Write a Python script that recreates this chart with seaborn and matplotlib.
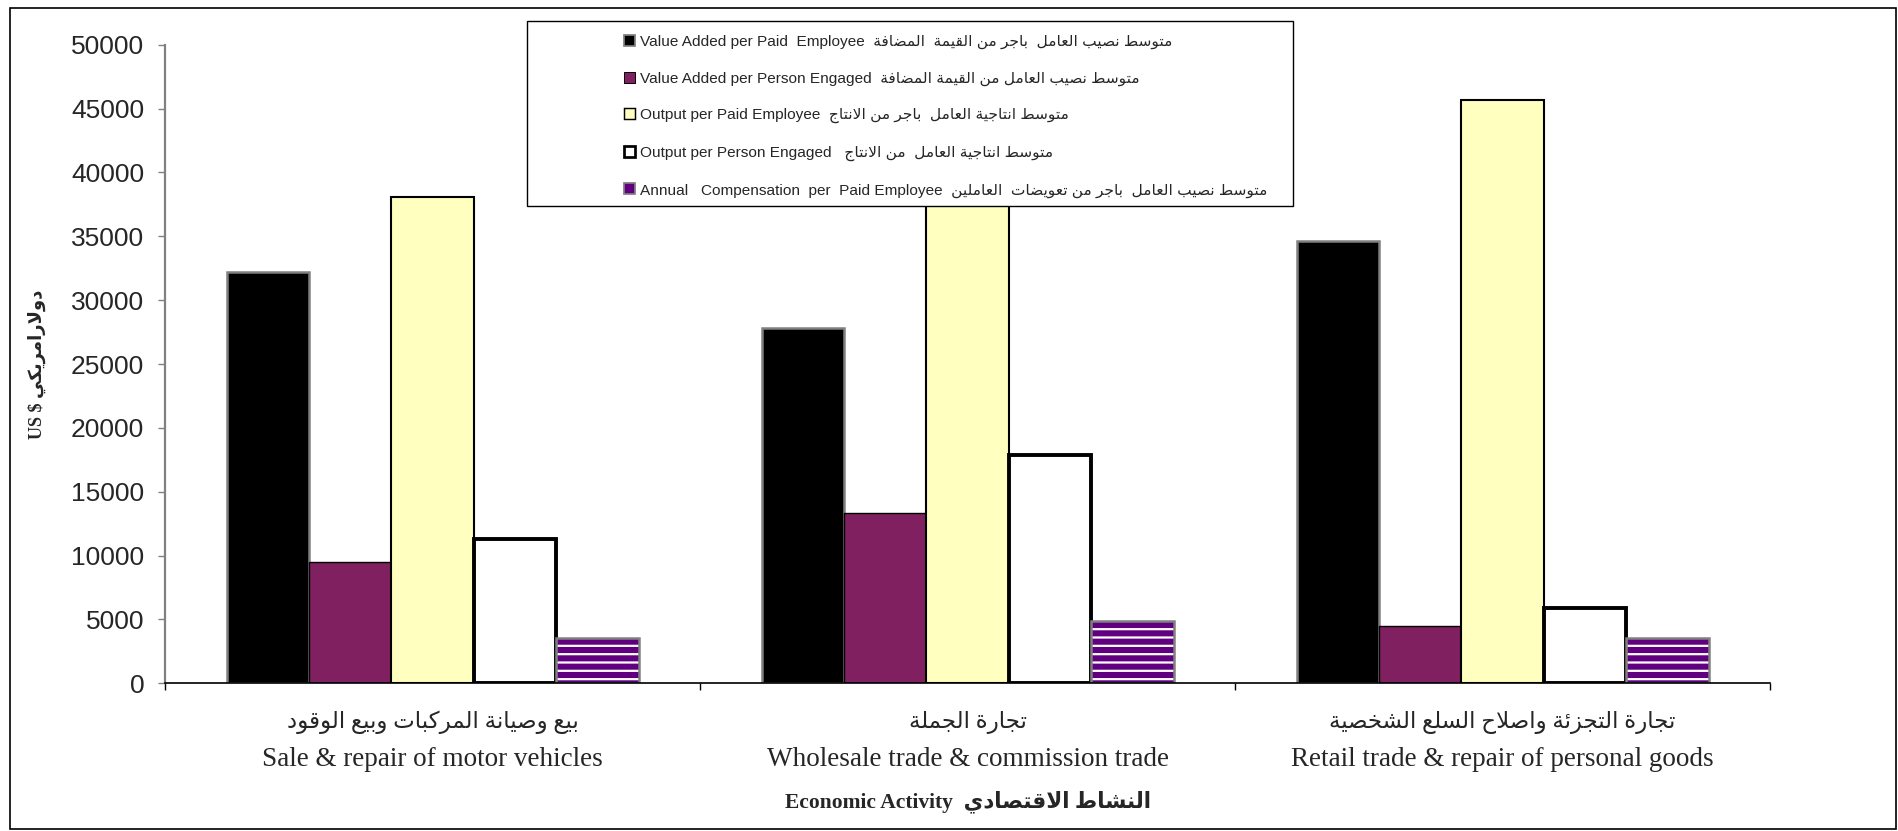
import pandas as pd
import numpy as np
import matplotlib
matplotlib.use('Agg')
import matplotlib.pyplot as plt
import matplotlib.patches as mpatches
import matplotlib.colors as mcolors
import matplotlib.transforms as mtransforms
import seaborn as sns

# Chart data (US $ per worker by economic activity)
categories_en = ['Sale & repair of motor vehicles',
                 'Wholesale trade & commission trade',
                 'Retail trade & repair of personal goods']
categories_ar = ['بيع وصيانة المركبات وبيع الوقود',
                 'تجارة الجملة',
                 'تجارة التجزئة واصلاح السلع الشخصية']
series_en = ['Value Added per Paid  Employee',
             'Value Added per Person Engaged',
             'Output per Paid Employee',
             'Output per Person Engaged ',
             'Annual   Compensation  per  Paid Employee']
series_ar = ['متوسط نصيب العامل  باجر من القيمة  المضافة',
             'متوسط نصيب العامل من القيمة المضافة',
             'متوسط انتاجية العامل  باجر من الانتاج',
             'متوسط انتاجية العامل  من الانتاج',
             'متوسط نصيب العامل  باجر من تعويضات  العاملين']
value_added_paid = [32200, 27800, 34600]
value_added_engaged = [9500, 13300, 4500]
output_paid = [38100, 41000, 45700]
output_engaged = [11300, 17900, 5900]
compensation_paid = [3550, 4850, 3550]
y_ticks = list(range(0, 50001, 5000))

# matplotlib has no arabic shaping, so map letters to presentation forms by hand
AR_FORMS = {
    'ء': (0xFE80, 1), 'آ': (0xFE81, 2), 'أ': (0xFE83, 2), 'ؤ': (0xFE85, 2), 'إ': (0xFE87, 2),
    'ئ': (0xFE89, 4), 'ا': (0xFE8D, 2), 'ب': (0xFE8F, 4), 'ة': (0xFE93, 2), 'ت': (0xFE95, 4),
    'ث': (0xFE99, 4), 'ج': (0xFE9D, 4), 'ح': (0xFEA1, 4), 'خ': (0xFEA5, 4), 'د': (0xFEA9, 2),
    'ذ': (0xFEAB, 2), 'ر': (0xFEAD, 2), 'ز': (0xFEAF, 2), 'س': (0xFEB1, 4), 'ش': (0xFEB5, 4),
    'ص': (0xFEB9, 4), 'ض': (0xFEBD, 4), 'ط': (0xFEC1, 4), 'ظ': (0xFEC5, 4), 'ع': (0xFEC9, 4),
    'غ': (0xFECD, 4), 'ف': (0xFED1, 4), 'ق': (0xFED5, 4), 'ك': (0xFED9, 4), 'ل': (0xFEDD, 4),
    'م': (0xFEE1, 4), 'ن': (0xFEE5, 4), 'ه': (0xFEE9, 4), 'و': (0xFEED, 2), 'ى': (0xFEEF, 2),
    'ي': (0xFEF1, 4),
}
LAM_ALEF = {'آ': 0xFEF5, 'أ': 0xFEF7, 'إ': 0xFEF9, 'ا': 0xFEFB}


def arabic(text):
    units = []
    i = 0
    while i < len(text):
        c = text[i]
        if c == 'ل' and i + 1 < len(text) and text[i + 1] in LAM_ALEF:
            units.append((LAM_ALEF[text[i + 1]], 2, c))
            i += 2
        elif c in AR_FORMS:
            units.append((AR_FORMS[c][0], AR_FORMS[c][1], c))
            i += 1
        else:
            units.append((None, 0, c))
            i += 1
    out = []
    for k, (base, n, c) in enumerate(units):
        if base is None:
            out.append(c)
            continue
        prev = units[k - 1] if k > 0 else None
        nxt = units[k + 1] if k + 1 < len(units) else None
        jp = prev is not None and prev[1] == 4 and n >= 2
        jn = nxt is not None and nxt[1] >= 2 and n == 4
        off = 3 if (jp and jn) else 1 if jp else 2 if jn else 0
        out.append(chr(base + off))
    return ''.join(out)[::-1]


# long form table for seaborn
all_values = [value_added_paid, value_added_engaged, output_paid, output_engaged, compensation_paid]
df = pd.DataFrame({
    'activity': np.tile(categories_en, len(series_en)),
    'series': np.repeat(series_en, len(categories_en)),
    'value': np.concatenate(all_values),
})

fills = ['#000000', '#802060', '#FFFFC0', '#FFFFFF', '#600080']
edges = ['#808080', '#000000', '#000000', '#000000', '#808080']
widths = [1.8, 1.0, 1.5, 2.8, 1.8]

sns.set_style('white')
plt.rcParams['font.family'] = ['Liberation Sans', 'DejaVu Sans']
plt.rcParams['hatch.linewidth'] = 1.6

fig = plt.figure(figsize=(18.99, 8.31), dpi=100)
ax = fig.add_axes([0.0869, 0.1777, 0.8452, 0.7685])

sns.barplot(data=df, x='activity', y='value', hue='series', hue_order=series_en,
            order=categories_en, palette=fills, saturation=1, width=0.77, gap=0,
            errorbar=None, legend=False, ax=ax)

for i, cont in enumerate(ax.containers):
    for p in cont.patches:
        p.set_edgecolor(edges[i])
        p.set_linewidth(widths[i])
        if i == 4:
            p.set_hatch('--')
            p._hatch_color = mcolors.to_rgba('white')

ax.set_xlim(-0.5, 2.5)
ax.set_ylim(0, 50000)
ax.set_yticks(y_ticks)
ax.set_yticklabels([str(t) for t in y_ticks], fontsize=19)
ax.tick_params(axis='y', length=5, width=1, color='#808080', pad=10, left=True)

# english names as tick labels, arabic line above them
ax.set_xticks([0, 1, 2])
ax.set_xticklabels(categories_en, fontsize=19.5, family='Liberation Serif')
ax.tick_params(axis='x', which='major', length=0, pad=46)
ax.set_xticks([-0.5, 0.5, 1.5, 2.5], minor=True)
ax.tick_params(axis='x', which='minor', length=5, width=1, color='black', bottom=True)
trans = mtransforms.blended_transform_factory(ax.transData, ax.transAxes)
for i, a in enumerate(categories_ar):
    ax.text(i, -0.061, arabic(a), transform=trans, ha='center', va='center',
            fontsize=16.5, family=['Liberation Serif', 'DejaVu Sans'])

for s in ['top', 'right']:
    ax.spines[s].set_visible(False)
ax.spines['left'].set_color('#808080')
ax.spines['left'].set_linewidth(1.6)
ax.spines['bottom'].set_color('black')
ax.spines['bottom'].set_linewidth(1.2)

ax.set_xlabel('Economic Activity  ' + arabic('النشاط الاقتصادي'), fontsize=15.5, fontweight='bold',
              family=['Liberation Serif', 'DejaVu Sans'])
ax.xaxis.set_label_coords(0.5, -0.167)
ax.set_ylabel('US $ ' + arabic('دولارامريكي'), fontsize=13, fontweight='bold',
              family=['Liberation Serif', 'DejaVu Sans'])
ax.yaxis.set_label_coords(-0.074, 0.5)

# legend box sits over the plot like the original
box = mpatches.Rectangle((0.2775, 0.752), 0.4035, 0.2227, transform=fig.transFigure,
                         facecolor='white', edgecolor='black', linewidth=1, zorder=5)
fig.add_artist(box)
handles = [mpatches.Patch(facecolor=fills[i], edgecolor=edges[i], linewidth=widths[i] * 0.7)
           for i in range(5)]
labels = [e + '  ' + arabic(a) for e, a in zip(series_en, series_ar)]
leg = fig.legend(handles, labels, loc='upper left', bbox_to_anchor=(0.3285, 0.958),
                 frameon=False, fontsize=11.1, handlelength=0.72, handleheight=0.72,
                 handletextpad=0.3, labelspacing=1.45, borderaxespad=0, borderpad=0)
leg.set_zorder(6)

frame = mpatches.Rectangle((0.0051, 0.002), 0.9935, 0.9878, transform=fig.transFigure,
                           fill=False, edgecolor='black', linewidth=1.2, zorder=7)
fig.add_artist(frame)

fig.savefig('out.png', dpi=100)
